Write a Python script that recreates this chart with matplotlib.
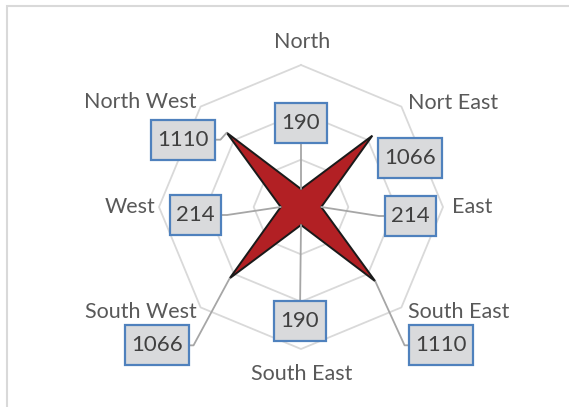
import matplotlib
matplotlib.use("Agg")
import matplotlib.pyplot as plt
import numpy as np
from matplotlib.patches import Rectangle
from matplotlib.path import Path

# data
directions = ["North", "Nort East", "East", "South East",
              "South East", "South West", "West", "North West"]
values = [190, 1066, 214, 1110, 190, 1066, 214, 1110]
grid_levels = [500, 1000, 1500]
r_max = 1500

# layout (pixels)
W, H, DPI = 569, 407, 100
CX, CY = 301, 207          # centre of the radar, from top-left
R_PX = 142                 # pixels for r_max
k = r_max / R_PX           # data units per pixel

# category label placement: (dx, dy) pixel offset from outer vertex, ha
cat_pos = [((1, 23), "center"), ((7, 4), "left"), ((9, 0), "left"),
           ((7, -5), "left"), ((1, -25), "center"), ((-4, -5), "right"),
           ((-4, 0), "right"), ((-4, 5), "right")]

# data label box offsets from the point (pixels) and leader style
lab_off = [(0, 66), (38, -22), (89, -9), (66, -64),
           (-1, -96), (-73, -67), (-85, -8), (-44, -7)]
leaders = [((0.5, 0.0), None, 0), None, ((0.0, 0.5), 180, 12),
           ((0.0, 0.5), 180, 11), ((0.5, 1.0), None, 0),
           ((1.0, 0.5), 0, 11), ((1.0, 0.5), 0, 12), ((1.0, 0.5), 0, 12)]

FONT = "Lato"
GRID = "#D9D9D9"
LEAD = "#A6A6A6"


def label_box(x0, y0, width, height, mutation_size):
    # square box, a little more padding top/bottom than sides
    px, py = 0.28 * mutation_size, 0.45 * mutation_size
    x0, y0 = x0 - px, y0 - py
    x1, y1 = x0 + width + 2 * px, y0 + height + 2 * py
    return Path([(x0, y0), (x1, y0), (x1, y1), (x0, y1), (x0, y0)], closed=True)


fig = plt.figure(figsize=(W / DPI, H / DPI), dpi=DPI)
ax = fig.add_axes([0, 0, 1, 1])
ax.set_xlim(-CX * k, (W - CX) * k)
ax.set_ylim(-(H - CY) * k, CY * k)
ax.axis("off")

n = len(directions)
theta = np.arange(n) * 2 * np.pi / n
sx, sy = np.sin(theta), np.cos(theta)

# octagon grid
for lv in grid_levels:
    ax.plot(np.append(sx, sx[0]) * lv, np.append(sy, sy[0]) * lv,
            color=GRID, lw=1.3, zorder=1)

# star series
vals = np.array(values, dtype=float)
ax.fill(sx * vals, sy * vals, facecolor="#B22024", edgecolor="#1a1a1a",
        lw=1.4, zorder=3)

# category labels
for i, name in enumerate(directions):
    (dx, dy), ha = cat_pos[i]
    ax.annotate(name, xy=(sx[i] * r_max, sy[i] * r_max), xytext=(dx, dy),
                textcoords="offset pixels", ha=ha, va="center",
                fontsize=15.5, color="#595959", family=FONT, zorder=2)

# data labels
for i, v in enumerate(values):
    lead = leaders[i]
    arrow = None
    if lead is not None:
        relpos, angA, arm = lead
        if angA is None:
            cs = "arc3,rad=0"
        else:
            cs = f"arc,angleA={angA},armA={arm},angleB=0,armB=0,rad=0"
        arrow = dict(arrowstyle="-", color=LEAD, lw=1.3, shrinkA=0,
                     shrinkB=0, relpos=relpos, connectionstyle=cs)
    ax.annotate(str(v), xy=(sx[i] * v, sy[i] * v), xytext=lab_off[i],
                textcoords="offset pixels", ha="center", va="center",
                fontsize=16, color="#404040", family=FONT, zorder=4,
                bbox=dict(boxstyle=label_box, fc="#D9DADC",
                          ec="#4F81BD", lw=1.6),
                arrowprops=arrow)

# chart frame
fig.add_artist(Rectangle((6.5 / W, -0.2), 1.2, 1.2 - 6.5 / H,
                         transform=fig.transFigure, fill=False,
                         ec=GRID, lw=1.5))

fig.savefig("out.png", dpi=DPI)
